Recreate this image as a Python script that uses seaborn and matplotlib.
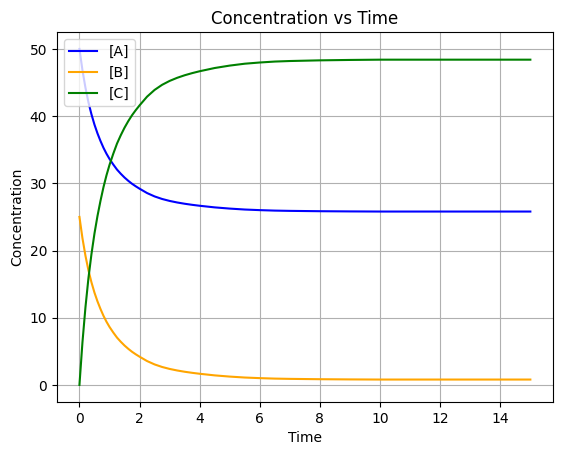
import seaborn as sns
import matplotlib.pyplot as plt

# values
time = [0, 0.1, 0.2, 0.3, 0.4, 0.5, 0.6, 0.7, 0.8, 0.9, 1.0, 1.125, 1.25, 1.375,
        1.5, 1.625, 1.75, 1.875, 2.0, 2.25, 2.5, 2.75, 3.0, 3.25, 3.5, 3.75, 4.0,
        4.5, 5.0, 5.5, 6.0, 6.5, 7.0, 8.0, 9.0, 10.0, 12.0, 15.0]
conc_a = [50, 46.83, 44.22, 42.04, 40.26, 38.73, 37.43, 36.3, 35.28, 34.4, 33.63,
          32.8, 32.04, 31.42, 30.86, 30.37, 29.93, 29.55, 29.2, 28.55, 28.05,
          27.67, 27.38, 27.15, 26.96, 26.8, 26.66, 26.42, 26.24, 26.1, 26.01,
          25.94, 25.9, 25.85, 25.82, 25.8, 25.8, 25.8]
conc_b = [25, 21.83, 19.22, 17.04, 15.26, 13.73, 12.43, 11.3, 10.28, 9.4, 8.63,
          7.8, 7.04, 6.42, 5.86, 5.37, 4.93, 4.55, 4.2, 3.55, 3.05, 2.67, 2.38,
          2.15, 1.96, 1.8, 1.66, 1.42, 1.24, 1.1, 1.01, 0.94, 0.9, 0.85, 0.82,
          0.8, 0.8, 0.8]
conc_c = [0, 6.34, 11.56, 15.92, 19.48, 22.54, 25.14, 27.4, 29.44, 31.2, 32.74,
          34.4, 35.92, 37.16, 38.28, 39.26, 40.14, 40.9, 41.6, 42.9, 43.9, 44.66,
          45.24, 45.7, 46.08, 46.4, 46.68, 47.16, 47.52, 47.8, 47.98, 48.12,
          48.2, 48.3, 48.36, 48.4, 48.4, 48.4]

plt.figure(figsize=(6.4, 4.8))

sns.lineplot(x=time, y=conc_a, color="blue", label="[A]")
sns.lineplot(x=time, y=conc_b, color="orange", label="[B]")
sns.lineplot(x=time, y=conc_c, color="green", label="[C]")

plt.title("Concentration vs Time")
plt.xlabel("Time")
plt.ylabel("Concentration")
plt.legend(loc="upper left")
plt.grid(True)
plt.savefig("out.png", dpi=100, bbox_inches="tight")
